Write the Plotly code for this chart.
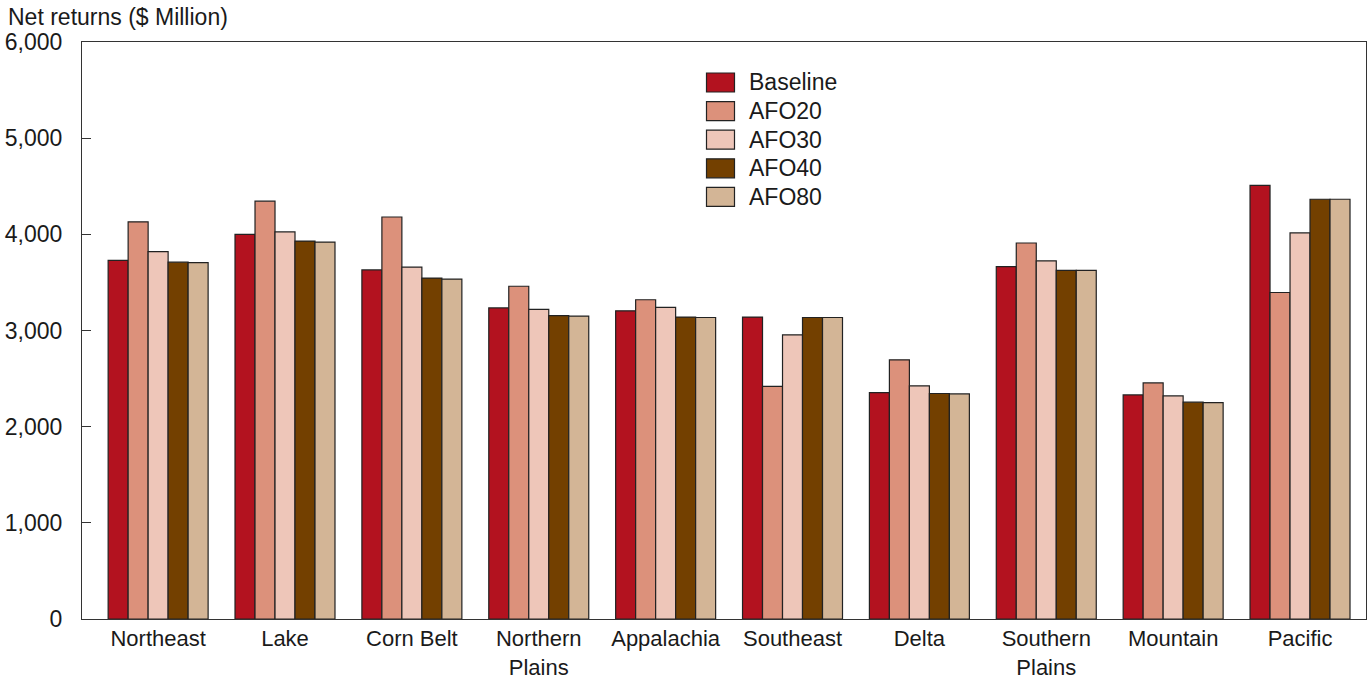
import plotly.graph_objects as go

regions = ["Northeast", "Lake", "Corn Belt", "Northern<br>Plains", "Appalachia",
           "Southeast", "Delta", "Southern<br>Plains", "Mountain", "Pacific"]

baseline = [3730, 4000, 3630, 3235, 3205, 3140, 2355, 3665, 2330, 4510]
afo20 = [4130, 4345, 4180, 3460, 3320, 2420, 2695, 3910, 2455, 3395]
afo30 = [3820, 4025, 3660, 3220, 3240, 2955, 2425, 3725, 2320, 4015]
afo40 = [3710, 3930, 3545, 3155, 3140, 3135, 2345, 3625, 2255, 4365]
afo80 = [3705, 3920, 3535, 3150, 3135, 3135, 2340, 3625, 2250, 4365]

series_names = ["Baseline", "AFO20", "AFO30", "AFO40", "AFO80"]
series_colors = ["#B3121F", "#DC917B", "#EEC6B9", "#734000", "#D3B596"]
series_values = [baseline, afo20, afo30, afo40, afo80]

y_ticks = [0, 1000, 2000, 3000, 4000, 5000, 6000]
y_tick_text = ["0", "1,000", "2,000", "3,000", "4,000", "5,000", "6,000"]

FONT = "Liberation Sans, Arial, sans-serif"
FS = 23
W, H = 1369, 679
ML, MR, MT, MB = 82, 3, 42, 60
PW, PH = W - ML - MR, H - MT - MB

fig = go.Figure()
for name, vals, color in zip(series_names, series_values, series_colors):
    fig.add_trace(go.Bar(
        x=regions, y=vals, name=name, showlegend=False,
        marker=dict(color=color, line=dict(color="#222222", width=1.2)),
    ))

# Legend drawn as boxes + text (reference uses large rectangular swatches)
def px_x(p):
    return (p - ML) / PW

def px_y(p):
    return (H - MB - p) / PH

shapes = []
annotations = []
for i, (name, color) in enumerate(zip(series_names, series_colors)):
    cy = 82.5 + i * 28.6
    shapes.append(dict(
        type="rect", xref="paper", yref="paper",
        x0=px_x(706.5), x1=px_x(734.5), y0=px_y(cy + 9.5), y1=px_y(cy - 9.5),
        fillcolor=color, line=dict(color="#222222", width=1.2), layer="above",
    ))
    annotations.append(dict(
        text=name, xref="paper", yref="paper", x=px_x(747), y=px_y(cy),
        xanchor="left", yanchor="middle", showarrow=False, font=dict(size=FS),
    ))

annotations.append(dict(
    text="Net returns ($ Million)", xref="paper", yref="paper",
    x=px_x(6), y=1.0, xanchor="left", yanchor="middle",
    yshift=25, showarrow=False, font=dict(size=FS),
))

fig.update_layout(
    barmode="group",
    bargap=0.212,
    bargroupgap=0,
    width=W, height=H,
    margin=dict(l=ML, r=MR, t=MT, b=MB, autoexpand=False),
    paper_bgcolor="white",
    plot_bgcolor="white",
    font=dict(family=FONT, size=FS, color="#1a1a1a"),
    showlegend=False,
    xaxis=dict(
        range=[-0.6, 9.52], automargin=False,
        showline=True, linecolor="#333333", linewidth=1, mirror=True,
        ticks="", showgrid=False, tickfont=dict(size=22),
    ),
    yaxis=dict(
        range=[0, 6000], tickvals=y_ticks, ticktext=y_tick_text, automargin=False,
        showline=True, linecolor="#333333", linewidth=1, mirror=True,
        ticks="inside", ticklen=9, tickcolor="#333333",
        ticklabelstandoff=14,
        showgrid=False, zeroline=False, tickfont=dict(size=FS),
    ),
    shapes=shapes,
    annotations=annotations,
)

fig.write_html("out.html", config={"displayModeBar": False},
               post_script="document.body.style.margin='0';")
